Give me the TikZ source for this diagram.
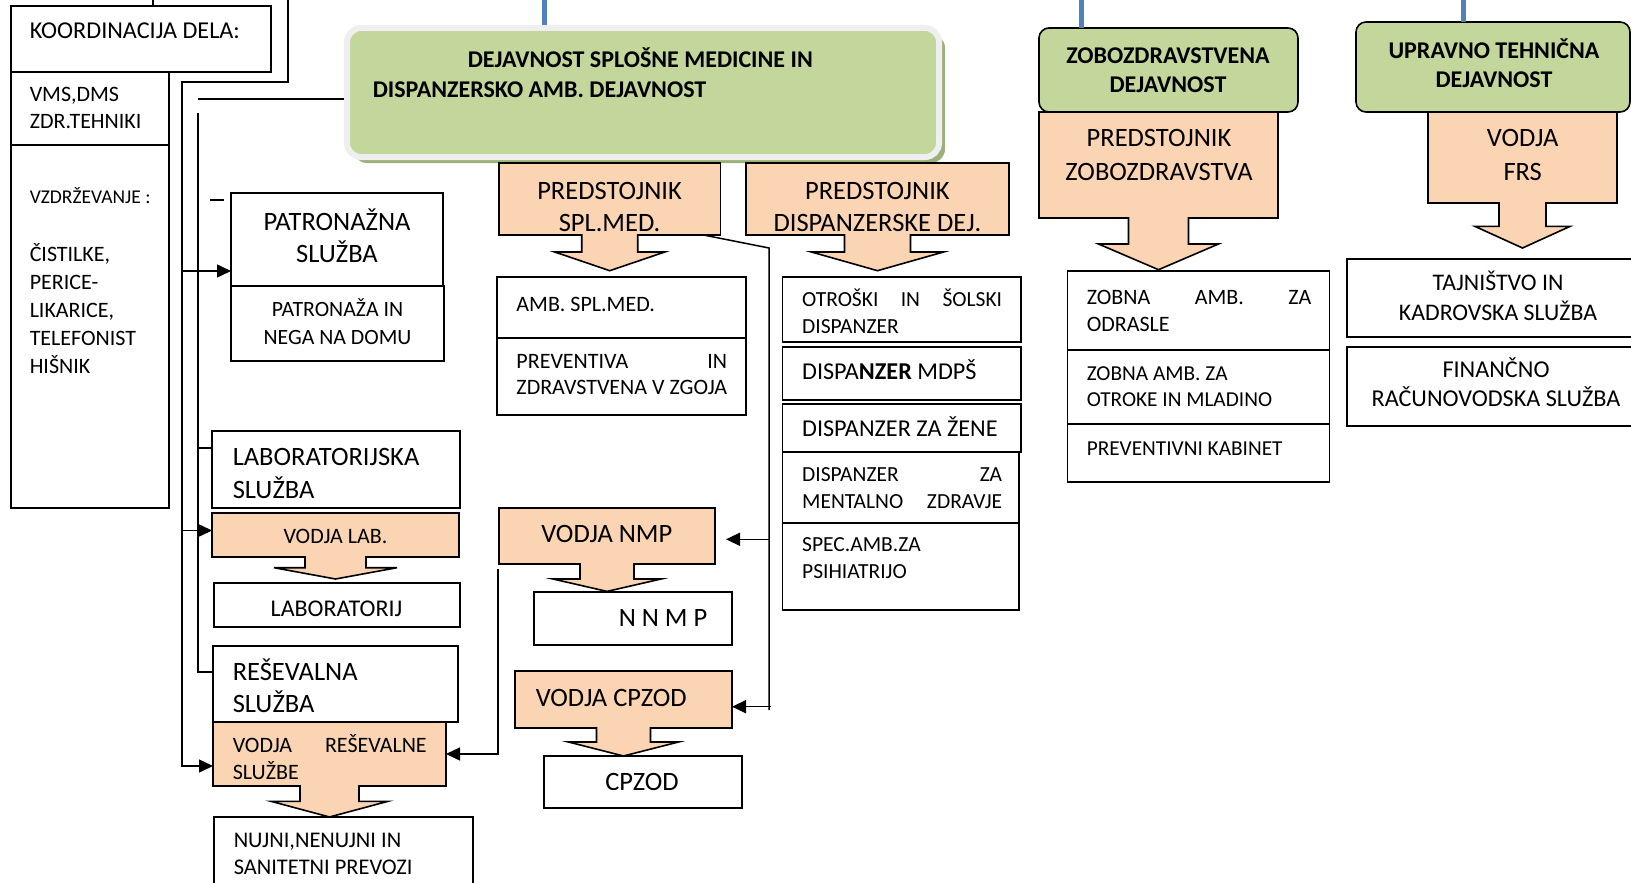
\documentclass[tikz,border=0pt]{standalone}
\usepackage{fontspec}
\setmainfont{Carlito}
\usetikzlibrary{arrows.meta,positioning,shadows}

\definecolor{peach}{HTML}{FBD4B4}
\definecolor{headgreen}{HTML}{C3D69B}
\definecolor{glowgray}{HTML}{EFEFEF}
\definecolor{shadegreen}{HTML}{9CB07C}
\definecolor{topblue}{HTML}{4F81BD}

\begin{document}
\begin{tikzpicture}[x=1pt,y=-1pt,>={Triangle[length=14pt,width=13pt]},line width=1.5pt,
    box/.style={draw,line width=1.6pt,anchor=north west,inner sep=0pt,outer sep=0pt},
    peachbox/.style={box,fill=peach},
    headbox/.style={box,fill=headgreen,rounded corners=10pt},
    mainbox/.style={draw=glowgray,line width=6pt,fill=headgreen,rounded corners=14pt,
                    anchor=north west,inner sep=0pt,outer sep=0pt,
                    general shadow={fill=shadegreen,shadow xshift=6pt,shadow yshift=-6pt}},
    barrow/.style={draw,fill=peach,line width=1.6pt},
    bluel/.style={draw=topblue,line width=5pt},
    ltext/.style={anchor=base west,align=flush left,text width=600pt,inner sep=0pt},
    ctext/.style={anchor=base,align=flush center,text width=320pt,inner sep=0pt},
    fbig/.style={font=\fontsize{26.5}{32.7}\selectfont},
    fmid/.style={font=\fontsize{22}{27}\selectfont},
    fsmall/.style={font=\fontsize{21.5}{26.3}\selectfont},
    fhead/.style={font=\bfseries\fontsize{24}{29}\selectfont}]

  \useasboundingbox (0,0) rectangle (1631,883);

  % heads of the three departments
  \node[mainbox,minimum width=592pt,minimum height=129pt] (dsm) at (347,28) {};
  \node[headbox,minimum width=259pt,minimum height=84pt]  (zob) at (1039,28) {};
  \node[headbox,minimum width=274pt,minimum height=90pt]  (upr) at (1356,22) {};

  \coordinate (bA) at (544,0);
  \coordinate (bB) at (1081,0);
  \coordinate (bC) at (1463,0);
  \draw[bluel,shorten >=3pt] (bA) -- (bA |- dsm.north);
  \draw[bluel] (bB) -- (bB |- zob.north);
  \draw[bluel] (bC) -- (bC |- upr.north);

  % left column
  \node[box,minimum width=260pt,minimum height=66pt] (koord) at (11,6) {};
  \node[box,minimum width=158pt,minimum height=73pt,below=0pt of koord.south west,anchor=north west] (vms) {};
  \node[box,minimum width=158pt,minimum height=363pt,below=0pt of vms.south west,anchor=north west] (vzd) {};

  \node[box,minimum width=212pt,minimum height=93pt] (patr) at (231,193) {};
  \node[box,minimum width=213pt,minimum height=75pt,below=0pt of patr.south west,anchor=north west] (nega) {};
  \node[box,minimum width=248pt,minimum height=77pt] (labs) at (212,431) {};
  \node[peachbox,minimum width=247pt,minimum height=44pt,below=5pt of labs.south west,anchor=north west] (vlab) {};
  \node[box,minimum width=246pt,minimum height=44pt] (lab) at (214,583) {};
  \node[box,minimum width=245pt,minimum height=76pt] (ress) at (213,646) {};
  \node[peachbox,minimum width=233pt,minimum height=64pt,below=0pt of ress.south west,anchor=north west] (vres) {};
  \node[box,minimum width=259pt,minimum height=80pt] (nujni) at (214,817) {};

  % general medicine
  \node[peachbox,minimum width=221.5pt,minimum height=72pt] (psm) at (499,163) {};
  \node[box,minimum width=249pt,minimum height=61pt] (amb) at (497,277) {};
  \node[box,minimum width=249pt,minimum height=77pt,below=0pt of amb.south west,anchor=north west] (prev) {};
  \node[peachbox,minimum width=216pt,minimum height=56pt] (vnmp) at (499,508) {};
  \node[box,minimum width=198pt,minimum height=53pt] (nnmp) at (534,592) {};
  \node[peachbox,minimum width=217pt,minimum height=57pt] (vcpz) at (515,671) {};
  \node[box,minimum width=198pt,minimum height=52pt] (cpzod) at (544,756) {};

  % dispensaries
  \node[peachbox,minimum width=263pt,minimum height=72pt] (pdisp) at (746,163) {};
  \node[box,minimum width=238.5pt,minimum height=65pt] (otr) at (782.5,277) {};
  \node[box,minimum width=238.5pt,minimum height=53pt,below=5pt of otr.south west,anchor=north west] (mdps) {};
  \node[box,minimum width=238.5pt,minimum height=48pt,below=4pt of mdps.south west,anchor=north west] (zene) {};
  \node[box,minimum width=236.5pt,minimum height=71pt,below=0pt of zene.south west,anchor=north west] (ment) {};
  \node[box,minimum width=236.5pt,minimum height=87pt,below=0pt of ment.south west,anchor=north west] (psih) {};

  % dentistry
  \node[peachbox,minimum width=239pt,minimum height=106pt,below=0pt of zob.south west,anchor=north west] (pzob) {};
  \node[box,minimum width=262pt,minimum height=79pt] (zodr) at (1067.5,271) {};
  \node[box,minimum width=262pt,minimum height=74pt,below=0pt of zodr.south west,anchor=north west] (zotr) {};
  \node[box,minimum width=262pt,minimum height=58pt,below=0pt of zotr.south west,anchor=north west] (zprev) {};

  % administration
  \node[peachbox,minimum width=189pt,minimum height=91pt] (vfrs) at (1428,112) {};
  \node[box,minimum width=293pt,minimum height=78pt] (taj) at (1347,259) {};
  \node[box,minimum width=293pt,minimum height=79pt,below=10pt of taj.south west,anchor=north west] (fin) {};

  % block arrows
  \draw[barrow] ([xshift=-28pt,yshift=1pt]psm.south) -- ++(0,18) -- ++(-27,0) -- ++(55,18.7) -- ++(55,-18.7) -- ++(-27,0) -- ++(0,-18);
  \draw[barrow] ([xshift=-33pt,yshift=1pt]pdisp.south) -- ++(0,18) -- ++(-33,0) -- ++(66,18.7) -- ++(66,-18.7) -- ++(-33,0) -- ++(0,-18);
  \draw[barrow] ([xshift=-30pt,yshift=1pt]pzob.south) -- ++(0,27) -- ++(-30,0) -- ++(60,25.7) -- ++(60,-25.7) -- ++(-30,0) -- ++(0,-27);
  \draw[barrow] ([xshift=-23.5pt,yshift=1pt]vfrs.south) -- ++(0,24.4) -- ++(-24,0) -- ++(47.5,21.6) -- ++(47.5,-21.6) -- ++(-24,0) -- ++(0,-24.4);
  \draw[barrow] ([xshift=-30.5pt,yshift=1pt]vlab.south) -- ++(0,11.7) -- ++(-31,0) -- ++(61.5,11.3) -- ++(61.5,-11.3) -- ++(-31,0) -- ++(0,-11.7);
  \draw[barrow] ([xshift=-29.5pt,yshift=1pt]vres.south) -- ++(0,16.3) -- ++(-29,0) -- ++(58.5,15.7) -- ++(58.5,-15.7) -- ++(-29,0) -- ++(0,-16.3);
  \draw[barrow] ([xshift=-27pt,yshift=1pt]vnmp.south) -- ++(0,16) -- ++(-27,0) -- ++(54,12.4) -- ++(54,-12.4) -- ++(-27,0) -- ++(0,-16);
  \draw[barrow] ([xshift=-27pt,yshift=1pt]vcpz.south) -- ++(0,15) -- ++(-28,0) -- ++(55,14) -- ++(55,-14) -- ++(-28,0) -- ++(0,-15);

  % connectors
  \coordinate (k1) at (153,0);
  \draw[line width=1.2pt] (k1) -- (k1 |- koord.north);

  \coordinate (c1) at (288,0);
  \coordinate (c3) at (182,82);
  \coordinate (p1) at (182,271);
  \coordinate (p2) at (182,530.5);
  \draw[->] (c1) |- (c3) |- ([yshift=-12pt]vres.west);
  \draw[->] (p1) -- (p1 -| patr.west);
  \draw[->] (p2) -- (p2 -| vlab.west);

  \coordinate (b1) at (198,99);
  \coordinate (b2) at (198,113);
  \coordinate (b3) at (198,448);
  \draw[shorten >=3pt] (b1) -- (b1 -| dsm.west);
  \draw (b2) |- ([yshift=12pt]ress.west);
  \draw (b3) -- (b3 -| labs.west);

  \coordinate (d1) at (210,200);
  \coordinate (d2) at (224,200);
  \draw (d1) -- (d2);

  \coordinate (m1) at ([xshift=-17pt]psm.south east);
  \coordinate (m2) at (769,248);
  \coordinate (m3) at (769,710);
  \coordinate (m4) at (769,539.3);
  \coordinate (m5) at (771,706.7);
  \draw (m1) -- (m2) -- (m3);
  \draw[->,shorten >=11pt] (m4) -- (m4 -| vnmp.east);
  \draw[->] (m5) -- (m5 -| vcpz.east);

  \coordinate (r1) at (498,569);
  \draw[->] (r1) |- (vres.east);

  % texts
  \node[ltext,font=\fontsize{24.2}{28}\selectfont] (koordT) at (29,39) {KOORDINACIJA DELA:};
  \node[ltext,fmid] (vmsT) at (29,102) {VMS,DMS\\ZDR.TEHNIKI};
  \node[ltext,font=\fontsize{19.5}{22}\selectfont] (vzdT) at (29,203.3) {VZDRŽEVANJE :};
  \node[ltext,font=\fontsize{22}{28}\selectfont] (cistT) at (29,261.7) {ČISTILKE,\\PERICE-\\LIKARICE,\\TELEFONIST\\HIŠNIK};

  \node[ctext,font=\fontsize{26.5}{32}\selectfont] (patrT) at (337,230) {PATRONAŽNA\\SLUŽBA};
  \node[ctext,font=\fontsize{21.8}{27.3}\selectfont] (negaT) at (337.5,316.7) {PATRONAŽA IN\\NEGA NA DOMU};
  \node[ltext,font=\fontsize{26.5}{33}\selectfont] (labsT) at (232,465) {LABORATORIJSKA\\SLUŽBA};
  \node[ctext,fmid] (vlabT) at (335.5,543) {VODJA LAB.};
  \node[ctext,font=\fontsize{24}{28}\selectfont] (labT) at (336.5,616) {LABORATORIJ};
  \node[ltext,font=\fontsize{26.5}{32}\selectfont] (ressT) at (232,680) {REŠEVALNA\\SLUŽBA};
  \node[ltext,fmid] (vresT) at (232,752) {\hbox to 194pt{VODJA\hfill REŠEVALNE}\\SLUŽBE};
  \node[ltext,font=\fontsize{22.4}{26.6}\selectfont] (nujT) at (233,847.7) {NUJNI,NENUJNI IN\\SANITETNI PREVOZI};

  \node[ltext,fhead] (dsmT) at (372,68) {\hspace*{95pt}DEJAVNOST SPLOŠNE MEDICINE IN\\DISPANZERSKO AMB. DEJAVNOST};
  \node[ctext,fbig] (psmT) at (609.6,199) {PREDSTOJNIK\\SPL.MED.};
  \node[ltext,fmid] (ambT) at (515.7,311.7) {AMB. SPL.MED.};
  \node[ltext,font=\fontsize{22}{26}\selectfont] (prevT) at (515.7,368.3) {\hbox to 210.7pt{PREVENTIVA\hfill IN}\\ZDRAVSTVENA V ZGOJA};
  \node[ctext,fbig] (vnmpT) at (606.8,542.7) {VODJA NMP};
  \node[ltext,fbig] (nnmpT) at (618,626.7) {N N M P};
  \node[ltext,fbig] (vcpzT) at (535,706) {VODJA CPZOD};
  \node[ctext,fbig] (cpzT) at (642,790.7) {CPZOD};

  \node[ctext,fbig] (pdispT) at (877.4,199) {PREDSTOJNIK\\DISPANZERSKE DEJ.};
  \node[ltext,fsmall] (otrT) at (801.4,306.7) {\hbox to 200pt{OTROŠKI\hfill IN\hfill ŠOLSKI}\\DISPANZER};
  \node[ltext,font=\fontsize{24.2}{28}\selectfont] (mdpsT) at (801.4,379.3) {DISPA\textbf{NZER} MDPŠ};
  \node[ltext,font=\fontsize{24.2}{28}\selectfont] (zeneT) at (801.4,436.7) {DISPANZER ZA ŽENE};
  \node[ltext,font=\fontsize{21.5}{26.6}\selectfont] (mentT) at (801.4,481.7) {\hbox to 200pt{DISPANZER\hfill ZA}\\\hbox to 200pt{MENTALNO\hfill ZDRAVJE}};
  \node[ltext,font=\fontsize{21.5}{26.6}\selectfont] (psihT) at (801.4,551.7) {SPEC.AMB.ZA\\PSIHIATRIJO};

  \node[ctext,font=\bfseries\fontsize{24}{28.7}\selectfont] (zobT) at (1168,64) {ZOBOZDRAVSTVENA\\DEJAVNOST};
  \node[ctext,font=\fontsize{26.5}{33.3}\selectfont] (pzobT) at (1159,146.7) {PREDSTOJNIK\\ZOBOZDRAVSTVA};
  \node[ltext,font=\fontsize{22}{27.7}\selectfont] (zodrT) at (1086,304) {\hbox to 224.6pt{ZOBNA\hfill AMB.\hfill ZA}\\ODRASLE};
  \node[ltext,font=\fontsize{21.3}{26.7}\selectfont] (zotrT) at (1086,380) {ZOBNA AMB. ZA\\OTROKE IN MLADINO};
  \node[ltext,font=\fontsize{21.3}{26}\selectfont] (zprevT) at (1086,455) {PREVENTIVNI KABINET};

  \node[ctext,font=\bfseries\fontsize{24}{29}\selectfont] (uprT) at (1494,58.3) {UPRAVNO TEHNIČNA\\DEJAVNOST};
  \node[ctext,font=\fontsize{26.5}{33.3}\selectfont] (vfrsT) at (1522.7,146.7) {VODJA\\FRS};
  \node[ctext,font=\fontsize{23.8}{30.7}\selectfont] (tajT) at (1498,290) {TAJNIŠTVO IN\\KADROVSKA SLUŽBA};
  \node[ctext,font=\fontsize{24.2}{29.4}\selectfont] (finT) at (1496,377.3) {FINANČNO\\RAČUNOVODSKA SLUŽBA};
\end{tikzpicture}
\end{document}
